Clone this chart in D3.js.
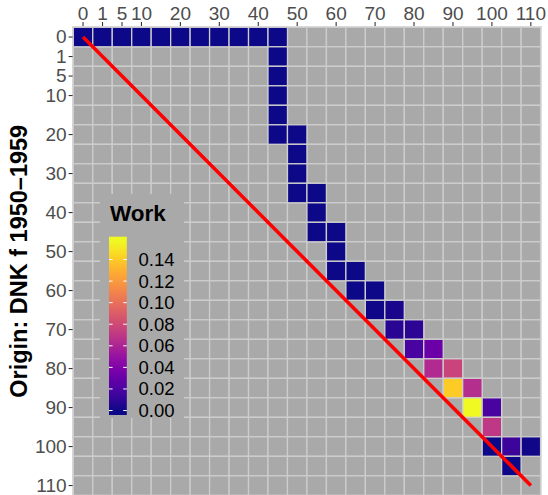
<!DOCTYPE html>
<html>
<head>
<meta charset="utf-8">
<script src="https://cdn.jsdelivr.net/npm/d3@7/dist/d3.min.js"></script>
<style>
  html, body { margin: 0; padding: 0; background: #ffffff; }
  svg { display: block; font-family: "Liberation Sans", Arial, Helvetica, sans-serif; }
</style>
</head>
<body>
<svg id="chart" width="548" height="495"></svg>
<script>
// Age groups used on both axes (origin rows, destination columns)
const ageGroups = [0, 1, 5, 10, 15, 20, 25, 30, 35, 40, 45, 50, 55,
                   60, 65, 70, 75, 80, 85, 90, 95, 100, 105, 110];
// Axis tick labels
const tickLabels = [0, 1, 5, 10, 20, 30, 40, 50, 60, 70, 80, 90, 100, 110];
// Legend breaks
const legendBreaks = [0.00, 0.02, 0.04, 0.06, 0.08, 0.10, 0.12, 0.14];

// Transition tiles: origin age, destination age, share in work
const tileOrigin = [
  0, 0, 0, 0, 0, 0, 0, 0, 0, 0, 0,
  1, 5, 10, 15,
  20, 20, 25, 30, 35, 35, 40, 45, 45, 50, 55, 55, 60, 60,
  65, 65, 70, 70, 75, 75, 80, 80, 85, 85, 90, 90, 95,
  100, 100, 100, 105
];
const tileDest = [
  0, 1, 5, 10, 15, 20, 25, 30, 35, 40, 45,
  45, 45, 45, 45,
  45, 50, 50, 50, 50, 55, 55, 55, 60, 60, 60, 65, 65, 70,
  70, 75, 75, 80, 80, 85, 85, 90, 90, 95, 95, 100, 100,
  100, 105, 110, 105
];
const tileValue = [
  0.0000, 0.0000, 0.0000, 0.0000, 0.0000, 0.0000, 0.0000, 0.0000, 0.0000, 0.0000, 0.0000,
  0.0000, 0.0000, 0.0000, 0.0000,
  0.0000, 0.0000, 0.0000, 0.0000, 0.0000, 0.0000, 0.0000, 0.0000, 0.0000, 0.0000, 0.0000, 0.0001, 0.0002, 0.0004,
  0.0010, 0.0030, 0.0070, 0.0080, 0.0190, 0.0320, 0.0630, 0.0770, 0.1400, 0.0650, 0.1570, 0.0190, 0.0700,
  0.0000, 0.0135, 0.0010, 0.0002
];

const svg = d3.select("#chart");
const font = "Liberation Sans, Arial, Helvetica, sans-serif";

// Panel geometry
const panel = { left: 73.3, top: 27.3, cellW: 19.47, cellH: 19.5 };
const n = ageGroups.length;

const x = d3.scaleBand().domain(ageGroups)
  .range([panel.left, panel.left + n * panel.cellW]).padding(0);
const y = d3.scaleBand().domain(ageGroups)
  .range([panel.top, panel.top + n * panel.cellH]).padding(0);

const vmax = d3.max(tileValue);
const colour = d3.scaleSequential(d3.interpolatePlasma).domain([0, vmax]);

// Lookup of tile values
const lookup = new Map();
tileOrigin.forEach((o, i) => lookup.set(o + "|" + tileDest[i], tileValue[i]));

// Full grid of cells; cells without a value get the NA grey
const cells = [];
ageGroups.forEach(o => ageGroups.forEach(d => {
  const key = o + "|" + d;
  cells.push({ o, d, v: lookup.has(key) ? lookup.get(key) : null });
}));

const naFill = "#a9a9a9";
const gridCol = "#cdcdcd";

// light frame around the panel
svg.append("rect")
  .attr("x", panel.left - 1.2).attr("y", panel.top - 1.2)
  .attr("width", n * panel.cellW + 2.4).attr("height", n * panel.cellH + 2.4)
  .attr("fill", "#dcdcdc");

const gCells = svg.append("g");
// grey cells first, coloured tiles on top
gCells.selectAll("rect.na")
  .data(cells.filter(c => c.v === null))
  .join("rect")
  .attr("class", "na")
  .attr("x", c => x(c.d))
  .attr("y", c => y(c.o))
  .attr("width", x.bandwidth())
  .attr("height", y.bandwidth())
  .attr("fill", naFill)
  .attr("stroke", gridCol)
  .attr("stroke-width", 1.3);

gCells.selectAll("rect.val")
  .data(cells.filter(c => c.v !== null))
  .join("rect")
  .attr("class", "val")
  .attr("x", c => x(c.d))
  .attr("y", c => y(c.o))
  .attr("width", x.bandwidth())
  .attr("height", y.bandwidth())
  .attr("fill", c => colour(c.v))
  .attr("stroke", gridCol)
  .attr("stroke-width", 1.3);

// Diagonal reference line (origin age = destination age)
const first = ageGroups[0], last = ageGroups[n - 1];
svg.append("line")
  .attr("x1", x(first) + x.bandwidth() / 2)
  .attr("y1", y(first) + y.bandwidth() / 2)
  .attr("x2", x(last) + x.bandwidth() / 2)
  .attr("y2", y(last) + y.bandwidth() / 2)
  .attr("stroke", "#ff0000")
  .attr("stroke-width", 3.6)
  .attr("stroke-linecap", "butt");

// Axes
const xAxis = svg.append("g")
  .attr("transform", `translate(0,${panel.top - 1.3})`)
  .call(d3.axisTop(x).tickValues(tickLabels).tickSize(4).tickPadding(2));
const yAxis = svg.append("g")
  .attr("transform", `translate(${panel.left - 0.7},0)`)
  .call(d3.axisLeft(y).tickValues(tickLabels).tickSize(4).tickPadding(2));

[xAxis, yAxis].forEach(a => {
  a.select(".domain").remove();
  a.selectAll(".tick line").attr("stroke", "#333333").attr("stroke-width", 1.1);
  a.selectAll(".tick text")
    .attr("fill", "#4d4d4d")
    .style("font-family", font)
    .style("font-size", "19px");
});

// Y axis title
svg.append("text")
  .attr("transform", `translate(27,${panel.top + n * panel.cellH / 2}) rotate(-90)`)
  .attr("text-anchor", "middle")
  .style("font-family", font)
  .style("font-size", "23.5px")
  .style("font-weight", "bold")
  .attr("fill", "#000000")
  .text("Origin: DNK f 1950\u20131959");

// Legend
const legend = svg.append("g");
legend.append("rect")
  .attr("x", 100).attr("y", 194)
  .attr("width", 84).attr("height", 224)
  .attr("fill", naFill);

legend.append("text")
  .attr("x", 110).attr("y", 221)
  .style("font-family", font)
  .style("font-size", "22.5px")
  .style("font-weight", "bold")
  .attr("fill", "#000000")
  .text("Work");

const bar = { x: 109, top: 236.7, bottom: 415, w: 17.8 };
const half = (bar.bottom - bar.top) / 40;
const ly = d3.scaleLinear().domain([0, vmax])
  .range([bar.bottom - half, bar.top + half]);

const defs = svg.append("defs");
const grad = defs.append("linearGradient")
  .attr("id", "workGrad")
  .attr("gradientUnits", "userSpaceOnUse")
  .attr("x1", 0).attr("x2", 0)
  .attr("y1", ly(0)).attr("y2", ly(vmax));
d3.range(0, 1.0001, 0.05).forEach(t => {
  grad.append("stop")
    .attr("offset", t)
    .attr("stop-color", colour(t * vmax));
});

legend.append("rect")
  .attr("x", bar.x).attr("y", bar.top)
  .attr("width", bar.w).attr("height", bar.bottom - bar.top)
  .attr("fill", "url(#workGrad)");

legend.selectAll("line.tl")
  .data(legendBreaks)
  .join("line")
  .attr("class", "tl")
  .attr("x1", bar.x).attr("x2", bar.x + 3.6)
  .attr("y1", d => ly(d)).attr("y2", d => ly(d))
  .attr("stroke", "#ffffff").attr("stroke-width", 1);
legend.selectAll("line.tr")
  .data(legendBreaks)
  .join("line")
  .attr("class", "tr")
  .attr("x1", bar.x + bar.w - 3.6).attr("x2", bar.x + bar.w)
  .attr("y1", d => ly(d)).attr("y2", d => ly(d))
  .attr("stroke", "#ffffff").attr("stroke-width", 1);

legend.selectAll("text.lab")
  .data(legendBreaks)
  .join("text")
  .attr("class", "lab")
  .attr("x", 138.5)
  .attr("y", d => ly(d))
  .attr("dy", "0.35em")
  .style("font-family", font)
  .style("font-size", "18.5px")
  .attr("fill", "#000000")
  .text(d => d3.format(".2f")(d));
</script>
</body>
</html>
